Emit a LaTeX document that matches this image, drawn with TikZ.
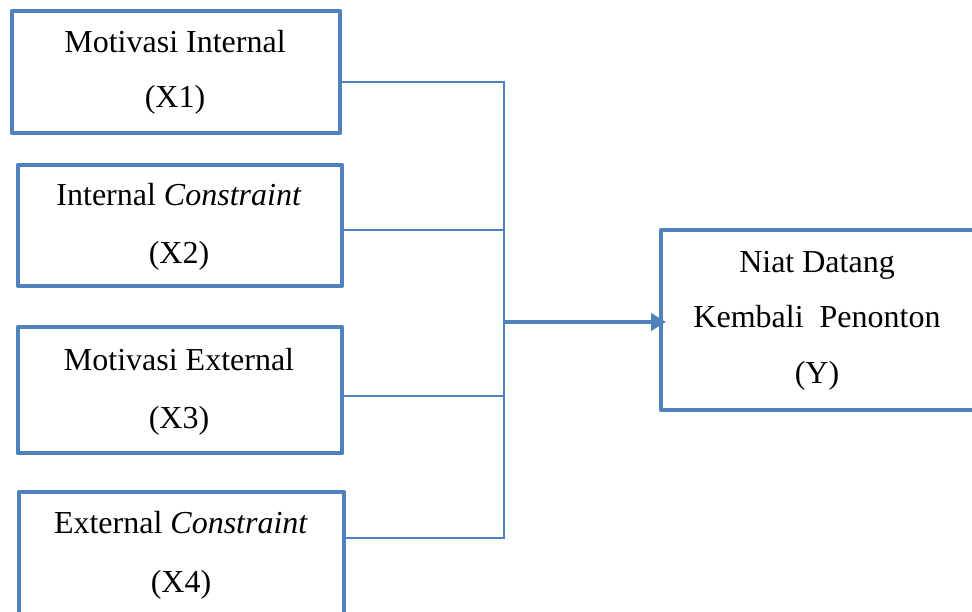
\documentclass[tikz,border=0pt]{standalone}
\usepackage{fontspec}
\setmainfont{Liberation Serif}
\usetikzlibrary{arrows.meta}
\definecolor{ob}{HTML}{4F81BD}
\begin{document}
\begin{tikzpicture}[x=0.5pt,y=-0.5pt,
  box/.style={draw=ob, line width=2.25pt, inner sep=0pt, outer sep=0pt, line join=round},
  lbl/.style={anchor=base, inner sep=0pt, font=\fontsize{16}{19}\selectfont},
  link/.style={draw=ob, line width=1pt},
  feed/.style={draw=ob, line width=2pt, shorten >=-2.5pt, -{Triangle[length=7.5pt,width=8.5pt]}}]
\useasboundingbox (0,0) rectangle (972,611);
\clip (0,0) rectangle (972,611);
% boxes
\node[box, minimum width=164pt, minimum height=61pt] (b1) at (176,72) {};
\node[box, minimum width=162pt, minimum height=60.5pt] (b2) at (180,225.5) {};
\node[box, minimum width=162pt, minimum height=63pt] (b3) at (180,390) {};
\node[box, minimum width=162.5pt, minimum height=74pt] (b4) at (181.5,566) {};
\node[box, minimum width=164.5pt, minimum height=90pt] (by) at (825.5,320) {};
% labels
\node[lbl] (t1a) at (175,52) {Motivasi Internal};
\node[lbl] (t1b) at (175,107) {(X1)};
\node[lbl] (t2a) at (179,205) {Internal \textit{Constraint}};
\node[lbl] (t2b) at (179,263) {(X2)};
\node[lbl] (t3a) at (179,370) {Motivasi External};
\node[lbl] (t3b) at (179,428) {(X3)};
\node[lbl] (t4a) at (181,533) {External \textit{Constraint}};
\node[lbl] (t4b) at (181,592) {(X4)};
\node[lbl] (tya) at (817,272) {Niat Datang};
\node[lbl] (tyb) at (817,327) {Kembali\ \ Penonton};
\node[lbl] (tyc) at (817,383) {(Y)};
% connectors
\coordinate (j1) at (504,82);
\coordinate (j2) at (504,230);
\coordinate (j3) at (504,396);
\coordinate (j4) at (504,538);
\coordinate (jm) at (504,322);
\draw[link] (b1.east |- j1) -- (j1) -- (j4) -- (b4.east |- j4);
\draw[link] (b2.east |- j2) -- (j2);
\draw[link] (b3.east |- j3) -- (j3);
\draw[feed] (jm) -- (by.west |- jm);
\end{tikzpicture}
\end{document}
